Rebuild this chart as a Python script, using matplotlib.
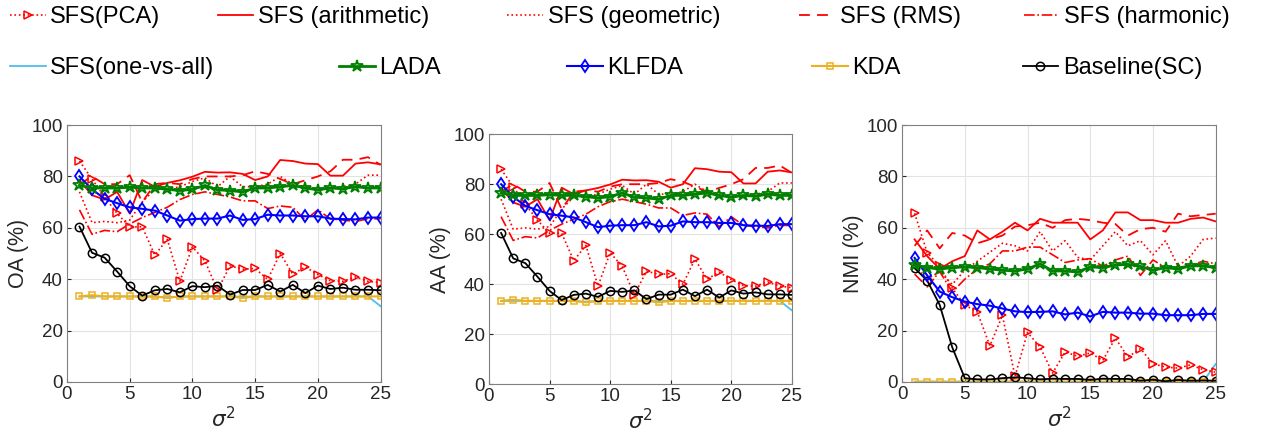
import matplotlib
matplotlib.use("Agg")
import matplotlib.pyplot as plt
from matplotlib.lines import Line2D
import numpy as np

plt.rcParams['font.family'] = ['Liberation Sans', 'DejaVu Sans']
plt.rcParams['mathtext.fontset'] = 'dejavusans'

sigma2 = np.arange(1, 26)

# OA (%) - AA looks the same in the picture, so it reuses these
oa_pca = [86, 79, 72, 65.6, 60.4, 60.4, 49.4, 55.5, 39.2, 52.6, 47.1, 35.7, 45.2,
          43.9, 44.2, 39.9, 50, 42, 44.8, 41.8, 39.4, 39.2, 40.9, 39.2, 38.6]
oa_arith = [78.5, 72.7, 71, 74, 65.6, 78.6, 76, 77.5, 78.5, 79.9, 81.8, 81.5, 81.6,
            81, 78.6, 80, 86.4, 86, 85, 84.8, 80.3, 80.3, 85, 85.5, 84.7]
oa_geom = [74, 62, 62.5, 62, 63, 70, 75, 75, 76, 78, 79.5, 76, 80,
           76, 76, 77, 80, 77, 76, 75, 75.5, 76, 77, 80.5, 80.5]
oa_rms = [77, 80, 77, 77, 80.5, 70, 77, 77.5, 77, 79, 80, 80, 80,
          80.5, 82, 81, 79, 77, 78.5, 80, 82, 86.5, 86.5, 87.5, 84.5]
oa_harm = [67, 57.5, 59, 58.5, 61.5, 64, 66, 68, 71, 73, 74, 73, 72,
           70.5, 70.5, 67.5, 68.5, 68, 63, 67, 63.5, 63, 62.5, 63.5, 63.5]
oa_ova = [33.3, 33.3, 33.3, 33.3, 33.3, 33.3, 33.2, 33.0, 33.2, 33.3, 33.3, 33.3, 33.3,
          33.2, 33.3, 33.3, 33.3, 33.3, 33.3, 33.3, 33.3, 33.3, 33.3, 33.3, 29.5]
oa_lada = [76.5, 75.5, 75.5, 75.5, 75.8, 75.5, 75.5, 75, 74.5, 75, 76.5, 74.8, 74.5,
           74, 75.5, 75.5, 76, 76.5, 75.5, 74.8, 75.5, 75.2, 76, 75.5, 75.5]
oa_klfda = [80, 75, 71.3, 69.6, 68, 67.4, 66.7, 64.8, 62.8, 63.4, 63.6, 63.6, 64.8,
            63.1, 63.4, 65.1, 64.8, 64.8, 64.5, 64.5, 63.6, 63.4, 63.3, 64, 64]
oa_kda = [33.3, 33.8, 33.3, 33.3, 33.3, 33.3, 33.3, 32.7, 33.3, 33.3, 33.3, 33.3, 33.3,
          32.7, 33.3, 33.3, 33.3, 33.3, 33.3, 33.3, 33.3, 33.3, 33.3, 33.3, 33.3]
oa_base = [60.5, 50.3, 48.4, 43, 37.3, 33.6, 35.7, 36.2, 34.9, 37.3, 36.9, 37.5, 34,
           35.8, 35.8, 37.8, 35.2, 37.8, 34.6, 37.5, 36.2, 36.7, 35.9, 35.9, 35.7]

# NMI (%)
nmi_pca = [65.7, 50.4, 45, 36.5, 30, 27.2, 14.1, 25.9, 2.2, 19.3, 13.6, 3.5, 11.7,
           10, 11.3, 8.4, 17.1, 9.7, 13, 7.1, 5.8, 5.4, 6.7, 4.8, 3.8]
nmi_arith = [55.5, 49, 44, 47, 49, 59, 55.5, 58.5, 62, 59, 63.5, 62, 62,
             62, 55.5, 59, 66, 66, 63, 63, 62, 62, 63.5, 64, 62.5]
nmi_geom = [45, 40, 43, 38, 43.5, 47, 50.5, 54, 53, 51, 58.5, 51, 55,
            48.5, 47.5, 53, 58.5, 53, 55, 49.5, 55, 45, 49, 55.5, 56]
nmi_rms = [53, 59, 52, 58, 57, 54, 55.5, 57, 60.5, 61, 62, 60, 63,
           63.5, 63, 62, 61.5, 57, 59.5, 60, 58.5, 65.5, 64.5, 65, 65.5]
nmi_harm = [42, 37, 43, 35, 40, 44, 46, 51, 51, 52.5, 52.5, 49.5, 46.5,
            47.5, 48, 45, 47.5, 49, 41.5, 47.5, 44.5, 44.5, 45.5, 47, 46]
nmi_ova = [0.2, 0.2, 0.2, 0.2, 0.2, 0.2, 0.2, 0.2, 0.2, 0.2, 0.2, 0.2, 0.2,
           0.2, 0.2, 0.2, 0.2, 0.2, 0.2, 0.2, 0.2, 0.2, 0.2, 0.2, 7]
nmi_lada = [45.5, 44.5, 44, 44.5, 44.8, 44.5, 44, 43.5, 43.2, 44, 46, 43.2, 43.2,
            42.8, 44.8, 44.5, 45.5, 45.8, 45, 43.5, 44.5, 44, 45.2, 45.2, 44.5]
nmi_klfda = [48.3, 41.5, 35.2, 33, 31.3, 30.3, 29.7, 28.6, 27.5, 27.2, 27.3, 27.5, 26.3,
             27, 25.5, 27.3, 27, 27, 26.6, 26.6, 26, 26, 26, 26.5, 26.5]
nmi_kda = [0.1] * 25
nmi_base = [44.3, 39.5, 30, 13.5, 1.5, 1, 1, 1.5, 1.8, 1.5, 1, 1.3, 1.2,
            1.2, 0.8, 1.3, 1.2, 1.2, 0.5, 0.9, 0.3, 0.8, 0.5, 0.6, 0.5]

names = ['SFS(PCA)', 'SFS (arithmetic)', 'SFS (geometric)', 'SFS (RMS)', 'SFS (harmonic)',
         'SFS(one-vs-all)', 'LADA', 'KLFDA', 'KDA', 'Baseline(SC)']

red = '#FF0000'
styles = [
    dict(color=red, ls=':', lw=1.2, marker='>', ms=6, mfc='none', mew=1.1),
    dict(color=red, ls='-', lw=1.3),
    dict(color=red, ls=':', lw=1.2),
    dict(color=red, ls=(0, (6, 4)), lw=1.3),
    dict(color=red, ls='-.', lw=1.2),
    dict(color='#4DBEEE', ls='-', lw=1.3),
    dict(color='#008000', ls='-', lw=2.0, marker='*', ms=9, mfc='none', mew=1.3),
    dict(color='#0000FF', ls='-', lw=1.5, marker='d', ms=6.5, mfc='none', mew=1.3),
    dict(color='#EDB120', ls='-', lw=1.5, marker='s', ms=4.5, mfc='none', mew=1.1),
    dict(color='black', ls='-', lw=1.3, marker='o', ms=6, mfc='none', mew=1.1),
]

oa_all = [oa_pca, oa_arith, oa_geom, oa_rms, oa_harm, oa_ova, oa_lada, oa_klfda, oa_kda, oa_base]
nmi_all = [nmi_pca, nmi_arith, nmi_geom, nmi_rms, nmi_harm, nmi_ova, nmi_lada, nmi_klfda, nmi_kda, nmi_base]
# drawing order: background lines first, markers on top
order = [5, 8, 1, 2, 3, 4, 0, 9, 7, 6]

fig = plt.figure(figsize=(12.75, 4.43), dpi=100)

panels = [
    ([0.0525, 0.1377, 0.246, 0.580], oa_all, 'OA (%)'),
    ([0.3835, 0.133, 0.2376, 0.564], oa_all, 'AA (%)'),
    ([0.7075, 0.1377, 0.246, 0.580], nmi_all, 'NMI (%)'),
]

for rect, data, ylab in panels:
    ax = fig.add_axes(rect)
    for i in order:
        ax.plot(sigma2, data[i], **styles[i])
    ax.set_xlim(0, 25)
    ax.set_ylim(0, 100)
    ax.set_xticks([0, 5, 10, 15, 20, 25])
    ax.set_yticks([0, 20, 40, 60, 80, 100])
    ax.grid(True, color='#E3E3E3', lw=0.8)
    ax.set_axisbelow(True)
    ax.tick_params(direction='in', length=3, labelsize=13.5, colors='#262626', pad=3)
    for s in ax.spines.values():
        s.set_color('#808080')
        s.set_linewidth(0.8)
    ax.set_ylabel(ylab, fontsize=15.5, color='#262626', labelpad=2)
    ax.set_xlabel(r'$\sigma^2$', fontsize=15.5, color='#262626', labelpad=3)

# legend entries placed one by one, like the original
leg_pos = [(0.008, 0.962), (0.171, 0.962), (0.398, 0.962), (0.627, 0.962), (0.803, 0.962),
           (0.008, 0.846), (0.266, 0.846), (0.445, 0.846), (0.637, 0.846), (0.802, 0.846)]
for i, name in enumerate(names):
    h = Line2D([], [], **styles[i])
    fig.legend(handles=[h], labels=[name], loc='center left', bbox_to_anchor=leg_pos[i],
               frameon=False, fontsize=17, handlelength=1.5, handletextpad=0.2,
               borderpad=0, borderaxespad=0)

fig.savefig('out.png', dpi=100, facecolor='white')
